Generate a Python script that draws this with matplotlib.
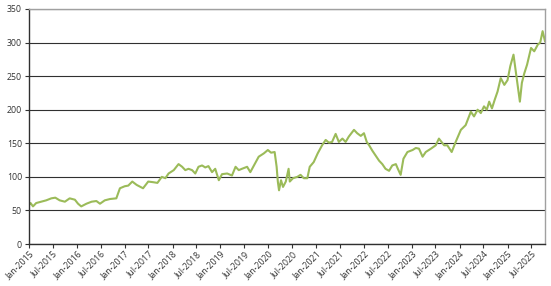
import matplotlib
matplotlib.use("Agg")
import matplotlib.pyplot as plt
import pandas as pd

# time in months since Jan-2015
months = [0, 0.4, 1, 1.8, 3.1, 4.3, 5.6, 6.6, 7.7, 9, 10.2, 11.5, 12.3, 13.1, 14.4,
          15.7, 16.9, 17.8, 19, 20.3, 21.9, 22.8, 24, 24.9, 25.9, 27, 28.6, 29.9,
          31.2, 32.2, 33.3, 34.2, 35, 36.3, 37.5, 38.4, 39.2, 40, 40.9, 41.7, 42.5,
          43.4, 44.2, 45, 45.9, 46.7, 47.6, 48.4, 49.7, 50.9, 51.8, 52.6, 53.4, 54.7,
          55.5, 56.4, 57.6, 58.9, 59.9, 60.7, 61.6, 62.1, 62.4, 62.7, 63.2, 63.7,
          64.4, 65.1, 65.4, 66.2, 67.3, 68.1, 68.9, 69.8, 70.4, 71.4, 72.4, 73.5,
          74.4, 75.2, 76, 76.9, 77.7, 78.6, 79.4, 80.2, 81.5, 82.3, 83.2, 84, 84.7,
          85.3, 86.1, 86.9, 87.8, 88.6, 89.4, 90.3, 91.1, 92, 92.5, 93.2, 93.9, 94.9,
          96.2, 97, 97.8, 98.7, 99.5, 100.8, 102, 102.8, 104.1, 104.9, 106, 107,
          108.3, 109.5, 110.8, 111.6, 112.5, 113.3, 114.1, 114.8, 115.4, 116.1, 116.8,
          117.5, 118.3, 119.2, 120, 120.7, 121.5, 122, 122.5, 123.1, 123.6, 124.2,
          124.9, 125.9, 126.7, 127.6, 128.2, 128.8, 129.4]
values = [58, 61, 56, 61, 63, 65, 68, 69, 65, 63, 68, 66, 60, 56, 60,
          63, 64, 60, 65, 67, 68, 83, 86, 87, 93, 88, 83, 93,
          92, 91, 100, 98, 105, 110, 119, 115, 110, 112, 110, 105, 115,
          117, 114, 116, 107, 112, 95, 104, 105, 102, 115, 110, 112, 115,
          107, 117, 130, 135, 140, 136, 137, 115, 93, 80, 95, 85,
          93, 112, 93, 98, 100, 103, 98, 98, 115, 122, 135, 147,
          155, 151, 152, 164, 152, 157, 152, 160, 170, 165, 161, 165, 152,
          147, 139, 132, 124, 119, 112, 109, 117, 119, 112, 103, 127, 137,
          140, 143, 142, 130, 137, 142, 147, 157, 147, 147, 137, 152,
          170, 177, 197, 190, 200, 195, 205, 200, 212, 202, 215,
          227, 247, 237, 244, 265, 282, 260, 237, 212, 240, 254,
          267, 292, 287, 297, 300, 317, 302]

y_ticks = [0, 50, 100, 150, 200, 250, 300, 350]
x_tick_labels = [f"{m}-{y}" for y in range(2015, 2026) for m in ("Jan", "Jul")]

start = pd.Timestamp("2015-01-01")
dates = [start + pd.Timedelta(days=m * 30.44) for m in months]

plt.rcParams['font.family'] = ['Open Sans', 'DejaVu Sans']
fig = plt.figure(figsize=(5.51, 2.86), dpi=100)
ax = fig.add_axes([29/551, 1-244/286, (545-29)/551, (244-9)/286])

ax.plot(dates, values, color="#9bbb59", lw=1.5, solid_joinstyle="round")

ax.set_ylim(0, 350)
ax.set_yticks(y_ticks)
ax.set_xlim(start, dates[-1])
tick_dates = [pd.Timestamp(f"{y}-{m:02d}-01") for y in range(2015, 2026) for m in (1, 7)]
ax.set_xticks(tick_dates)
ax.set_xticklabels(x_tick_labels, rotation=45, ha="right", rotation_mode="anchor")

ax.grid(axis="y", color="#303030", lw=0.8)
ax.set_axisbelow(True)
ax.tick_params(axis="both", labelsize=6.3, colors="#333333", length=3, width=0.8, pad=2)
ax.tick_params(axis="x", pad=1)
for s in ("left", "bottom"):
    ax.spines[s].set_color("#303030")
    ax.spines[s].set_linewidth(1.0)
for s in ("top", "right"):
    ax.spines[s].set_color("#a0a0a0")
    ax.spines[s].set_linewidth(1.0)

fig.savefig("out.png", dpi=100)
